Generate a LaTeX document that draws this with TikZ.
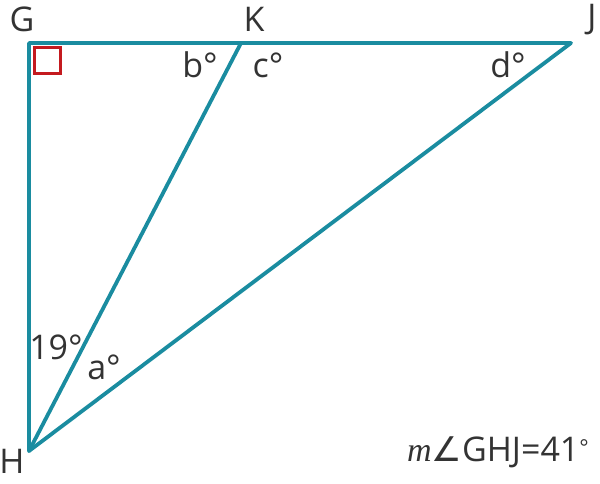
\documentclass[tikz,border=0pt]{standalone}
\usepackage{fontspec}
\setmainfont{Open Sans}
\newfontfamily\serifit{Liberation Serif}
\newfontfamily\symfont{DejaVu Sans}
\definecolor{teal1}{HTML}{1A8CA0}
\definecolor{red1}{HTML}{C41A1F}
\definecolor{txt}{HTML}{333333}
\begin{document}
\begin{tikzpicture}[x=1pt,y=-1pt,
  seg/.style={draw=teal1,line width=3.8pt,line cap=round,line join=round},
  lbl/.style={text=txt,font=\fontsize{34}{38}\selectfont,inner sep=0pt}]
\useasboundingbox (0,0) rectangle (600,484);
\coordinate (G) at (29,43);
\coordinate (K) at (241,43);
\coordinate (J) at (571,43);
\coordinate (H) at (29,451);
\draw[seg] (G) -- (J) -- (H) -- cycle;
\draw[seg] (K) -- (H);
\draw[draw=red1,line width=3.2pt] (34.5,47.5) rectangle (60.5,73.5);
\node[lbl] (lG) at (22,19) {G};
\node[lbl] (lK) at (254,19) {K};
\node[lbl] (lJ) at (592,20) {J};
\node[lbl] (lH) at (12,461) {H};
\node[lbl] (lb) at (200,65) {b°};
\node[lbl] (lc) at (268,65) {c°};
\node[lbl] (ld) at (508,65) {d°};
\node[lbl] (l19) at (56,347) {19°};
\node[lbl] (la) at (104,367) {a°};
\node[lbl,anchor=east] (lm) at (589,452) {{\serifit\itshape m}{\symfont ∠}GHJ=41\raisebox{0.3ex}{\fontsize{22}{24}\selectfont °}};
\end{tikzpicture}
\end{document}
